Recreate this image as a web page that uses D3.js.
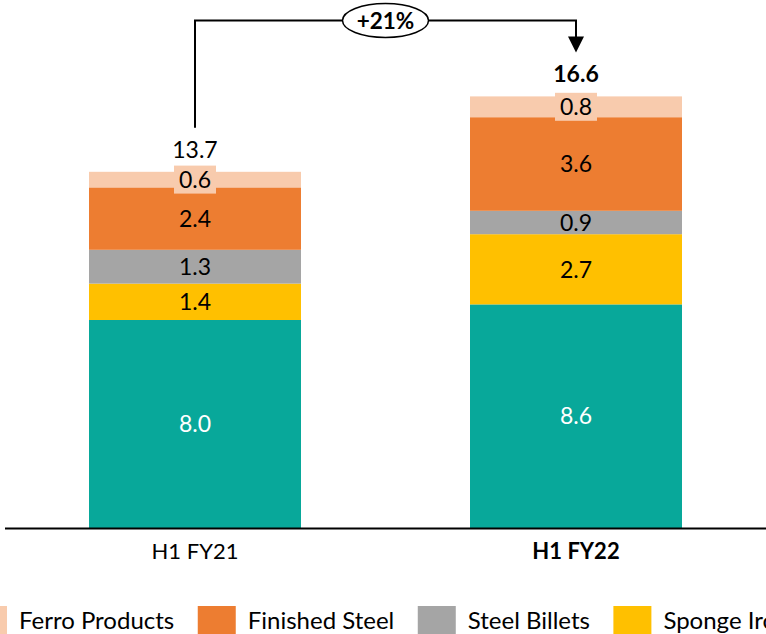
<!DOCTYPE html>
<html><head><meta charset="utf-8">
<script src="https://cdn.jsdelivr.net/npm/d3@7"></script>
<style>html,body{margin:0;padding:0;background:#fff;overflow:hidden}svg{display:block}</style>
</head><body>
<svg id="chart" width="766" height="634"></svg>
<script>
const categories = ["H1 FY21", "H1 FY22"];
const seriesNames = ["Power", "Sponge Iron", "Steel Billets", "Finished Steel", "Ferro Products"];
const power = [8.0, 8.6];
const spongeIron = [1.4, 2.7];
const steelBillets = [1.3, 0.9];
const finishedSteel = [2.4, 3.6];
const ferroProducts = [0.6, 0.8];
const totals = [13.7, 16.6];
const growthLabel = "+21%";
const legendOrder = ["Ferro Products", "Finished Steel", "Steel Billets", "Sponge Iron", "Power"];
const colors = {"Power":"#08A89A","Sponge Iron":"#FFC000","Steel Billets":"#A5A5A5","Finished Steel":"#ED7D31","Ferro Products":"#F8CBAD"};
const textColors = {"Power":"#ffffff","Sponge Iron":"#000","Steel Billets":"#000","Finished Steel":"#000","Ferro Products":"#000"};

const seriesValues = [power, spongeIron, steelBillets, finishedSteel, ferroProducts];
const table = categories.map((c,i)=>{const o={cat:c}; seriesNames.forEach((s,k)=>o[s]=seriesValues[k][i]); return o;});
const stack = d3.stack().keys(seriesNames)(table);

const font = "Lato, 'Open Sans', sans-serif";
const svg = d3.select("#chart");
const baseY = 528;
const y = d3.scaleLinear().domain([0, 20]).range([baseY, baseY - 520]);
const x = d3.scaleBand().domain(categories).range([4.5, 766.5]).paddingInner(0.4436).paddingOuter(0.2218);

// bars
const g = svg.append("g");
stack.forEach(layer=>{
  const key = layer.key;
  g.selectAll(null).data(layer).join("rect")
    .attr("x", d=>x(d.data.cat)).attr("width", x.bandwidth())
    .attr("y", d=>y(d[1])).attr("height", d=>y(d[0])-y(d[1]))
    .attr("fill", colors[key]);
});
// labels
stack.forEach(layer=>{
  const key = layer.key;
  layer.forEach(d=>{
    const v = d.data[key];
    const cx = x(d.data.cat) + x.bandwidth()/2;
    const cy = (y(d[0]) + y(d[1]))/2;
    if (key === "Ferro Products") {
      g.append("rect").attr("x", cx-21).attr("y", cy-14).attr("width", 42).attr("height", 28).attr("fill", colors[key]);
    }
    g.append("text").attr("x", cx).attr("y", cy).attr("dy","0.36em")
      .attr("text-anchor","middle").attr("font-family",font).attr("font-size",23)
      .attr("fill", textColors[key]).text(v.toFixed(1));
  });
});
// totals
categories.forEach((c,i)=>{
  svg.append("text").attr("x", x(c)+x.bandwidth()/2).attr("y", y(totals[i]) - 14)
    .attr("text-anchor","middle").attr("font-family",font).attr("font-size",23)
    .attr("font-weight", i===1?"bold":"normal").attr("fill","#000").text(totals[i].toFixed(1));
});

// axis
const axis = svg.append("g").attr("transform",`translate(0,${baseY})`)
  .call(d3.axisBottom(x).tickSize(0).tickPadding(15));
axis.select(".domain").attr("stroke","#000").attr("stroke-width",2);
axis.selectAll(".tick text").attr("font-family",font).attr("font-size",22).attr("fill","#000")
  .attr("font-weight",(d,i)=>i===1?"bold":"normal");

// bracket
const x0 = x(categories[0])+x.bandwidth()/2, x1 = x(categories[1])+x.bandwidth()/2;
const topY = 20.5;
svg.append("path").attr("d",`M${x0},${y(totals[0])-44}V${topY}H${x1}V${topY+18}`)
  .attr("fill","none").attr("stroke","#000").attr("stroke-width",2);
svg.append("path").attr("d",`M${x1-8},${topY+16}L${x1+8},${topY+16}L${x1},${topY+32}Z`).attr("fill","#000");
const ex = (x0+x1)/2;
svg.append("ellipse").attr("cx",ex).attr("cy",topY).attr("rx",43).attr("ry",17)
  .attr("fill","#fff").attr("stroke","#000").attr("stroke-width",1.5);
svg.append("text").attr("x",ex).attr("y",topY).attr("dy","0.36em").attr("text-anchor","middle")
  .attr("font-family",font).attr("font-size",22.5).attr("font-weight","bold").text(growthLabel);

// legend
const lg = svg.append("g").attr("transform","translate(0,606)");
let lx = -31;
legendOrder.forEach(name=>{
  lg.append("rect").attr("x",lx).attr("y",0).attr("width",38).attr("height",30).attr("fill",colors[name]);
  const t = lg.append("text").attr("x",lx+50).attr("y",22.5).attr("font-family",font).attr("font-size",24)
    .attr("fill","#000").text(name);
  lx += 50 + t.node().getComputedTextLength() + 23.5;
});
</script>
</body></html>
